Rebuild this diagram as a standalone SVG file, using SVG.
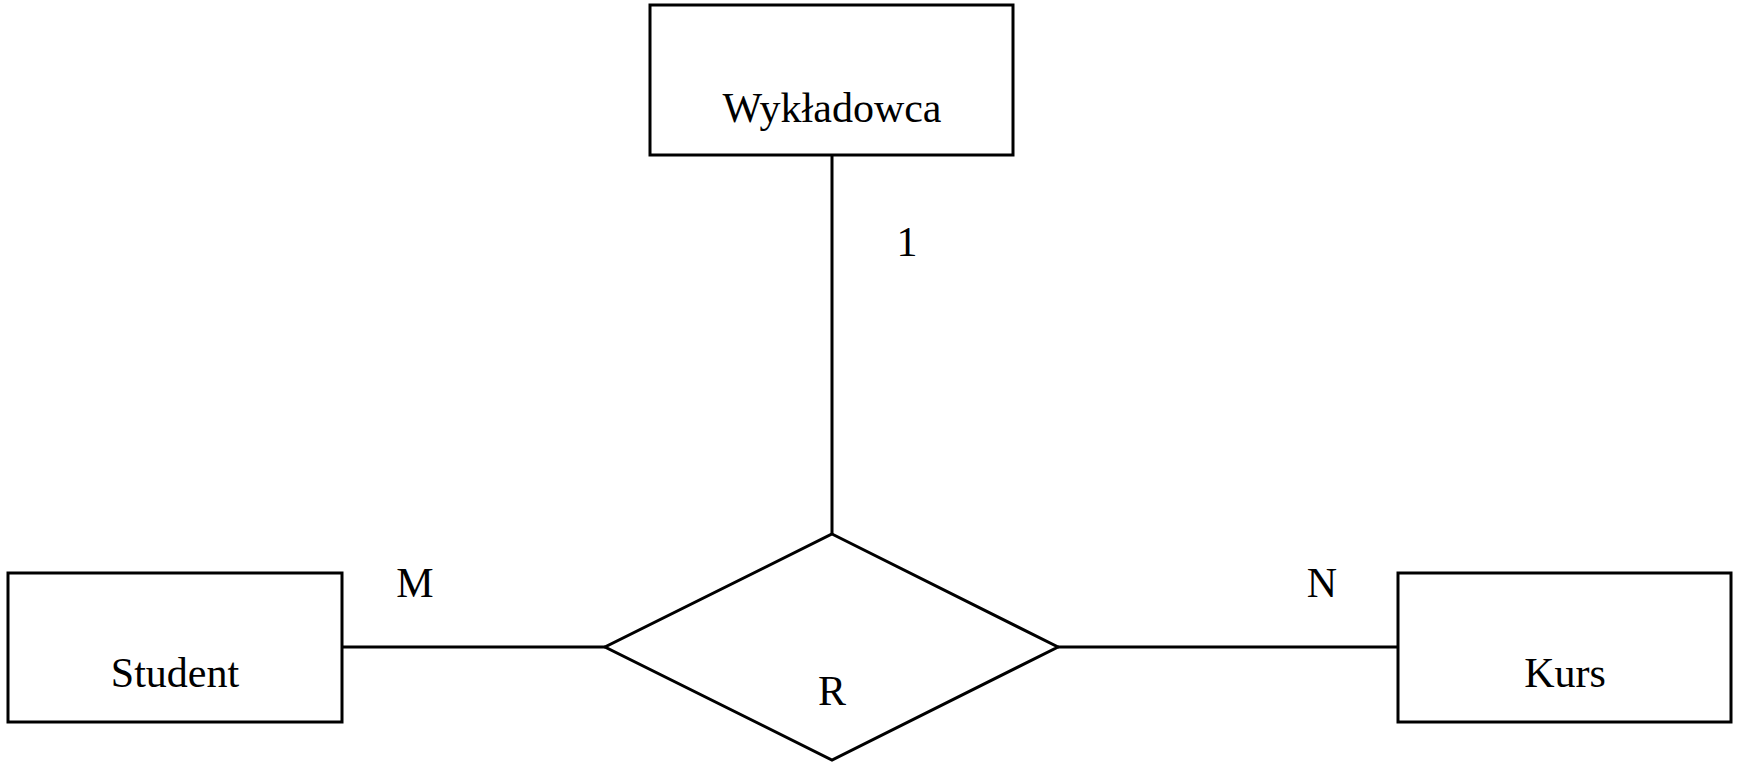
<svg xmlns="http://www.w3.org/2000/svg" width="1739" height="763" viewBox="0 0 1739 763">
<style>
.box{fill:#fff;stroke:#000;stroke-width:3}
.ln{stroke:#000;stroke-width:3;fill:none}
text{font-family:"Liberation Serif","Times New Roman",serif;font-size:42px;fill:#000;text-anchor:middle}
</style>
<rect width="1739" height="763" fill="#fff"/>
<g id="connectors">
<line class="ln" x1="832" y1="155" x2="832" y2="534"/>
<line class="ln" x1="342" y1="647" x2="605" y2="647"/>
<line class="ln" x1="1058" y1="647" x2="1398" y2="647"/>
<text x="907" y="256">1</text>
<text x="415" y="597">M</text>
<text x="1322" y="597">N</text>
</g>
<g id="wykladowca">
<rect class="box" x="650" y="5" width="363" height="150"/>
<text x="832" y="122">Wykładowca</text>
</g>
<g id="student">
<rect class="box" x="8" y="573" width="334" height="149"/>
<text x="175" y="687">Student</text>
</g>
<g id="kurs">
<rect class="box" x="1398" y="573" width="333" height="149"/>
<text x="1565" y="687">Kurs</text>
</g>
<g id="r">
<polygon class="box" points="832,534 1058,647 832,760 605,647"/>
<text x="832" y="705">R</text>
</g>
</svg>
